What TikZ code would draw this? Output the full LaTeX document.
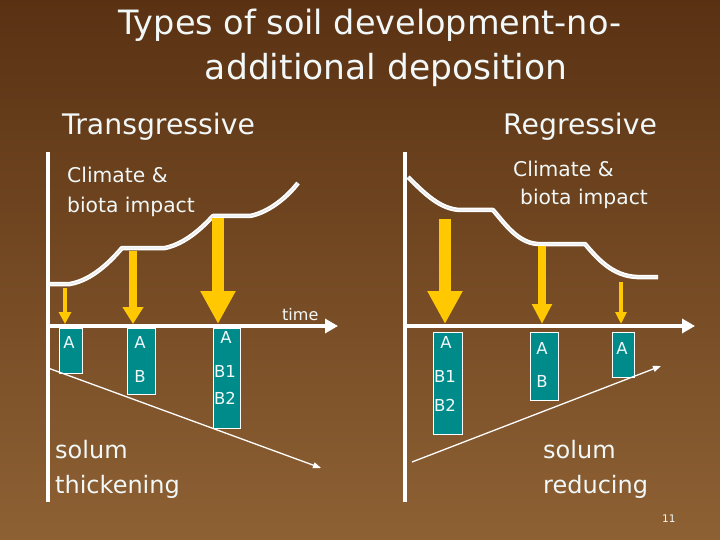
\documentclass[tikz,border=0pt]{standalone}
\usepackage{fontspec}
\setmainfont{DejaVu Sans}
\usetikzlibrary{arrows.meta}

\definecolor{slidetop}{RGB}{90,50,19}
\definecolor{slidebot}{RGB}{142,97,52}
\definecolor{chalk}{RGB}{242,248,248}
\definecolor{horizonfill}{RGB}{0,139,139}
\definecolor{impact}{RGB}{255,200,0}

\begin{document}
\begin{tikzpicture}[
        x=1pt, y=-1pt,
        axisline/.style={white, line width=4.5pt},
        timeaxis/.style={white, line width=4.5pt, -{Triangle[width=14pt,length=13pt]}},
        trend/.style={white, line width=1.3pt, -{Triangle[width=6pt,length=8pt]}},
        surface/.style={white, line width=1.9pt, double=white!75!gray, double distance=0.7pt, line join=round},
        horizon/.style={draw=white, fill=horizonfill, line width=0.8pt, anchor=north west, inner sep=0pt},
        hlabel/.style={text=chalk, inner sep=0pt, font=\fontsize{16.5}{16.5}\selectfont},
        words/.style={text=chalk, inner sep=0pt, anchor=base west}
    ]
        % --- Background ---
        \fill[top color=slidetop, bottom color=slidebot] (0,0) rectangle (720,540);
        \useasboundingbox (0,0) rectangle (720,540);

        % --- Title ---
        \node[words, anchor=base, font=\fontsize{33.5}{33.5}\selectfont] (title1) at (370,35) {Types of soil development-no-};
        \node[words, anchor=base, font=\fontsize{34.5}{34.5}\selectfont] (title2) at (386,80) {additional deposition};
        \node[words, font=\fontsize{28.3}{28.3}\selectfont] (trans) at (62,135) {Transgressive};
        \node[words, font=\fontsize{28.3}{28.3}\selectfont] (regr) at (503,135) {Regressive};

        % --- Axes ---
        \coordinate (LTop) at (48,152);
        \coordinate (LBot) at (48,502);
        \coordinate (LOrig) at (48,326);
        \coordinate (LEnd) at (338,326);
        \coordinate (RTop) at (405,152);
        \coordinate (RBot) at (405,502);
        \coordinate (ROrig) at (405,326);
        \coordinate (REnd) at (695,326);
        \draw[axisline] (LTop) -- (LBot);
        \draw[axisline] (RTop) -- (RBot);
        \draw[timeaxis] (LOrig) -- (LEnd);
        \draw[timeaxis] (ROrig) -- (REnd);
        \node[words, font=\fontsize{16}{16}\selectfont] (time) at (282,320) {time};

        % --- Land surface, transgressive ---
        \coordinate (L0) at (50,284);
        \coordinate (L1) at (70,284);
        \coordinate (L2) at (122,248);
        \coordinate (L3) at (165,248);
        \coordinate (L4) at (213,216);
        \coordinate (L5) at (250,216);
        \coordinate (L6) at (298,183);
        \draw[surface] (L0) -- (L1) .. controls (92,280) and (110,262) .. (L2) -- (L3)
            .. controls (184,244) and (200,230) .. (L4) -- (L5)
            .. controls (270,212) and (288,196) .. (L6);

        % --- Land surface, regressive ---
        \coordinate (R0) at (408,177);
        \coordinate (R1) at (460,210);
        \coordinate (R2) at (493,210);
        \coordinate (R3) at (538,244);
        \coordinate (R4) at (585,244);
        \coordinate (R5) at (637,277);
        \coordinate (R6) at (658,277);
        \draw[surface] (R0) .. controls (425,194) and (440,209) .. (R1) -- (R2)
            .. controls (505,224) and (518,243) .. (R3) -- (R4)
            .. controls (597,258) and (612,276) .. (R5) -- (R6);

        \node[words, font=\fontsize{20.3}{20.3}\selectfont] (climL1) at (67,183) {Climate \&};
        \node[words, font=\fontsize{20.3}{20.3}\selectfont] (climL2) at (67,212) {biota impact};
        \node[words, font=\fontsize{20.3}{20.3}\selectfont] (climR1) at (513,177) {Climate \&};
        \node[words, font=\fontsize{20.3}{20.3}\selectfont] (climR2) at (520,205) {biota impact};

        % --- Impact arrows ---
        \coordinate (la1) at (65,288);
        \coordinate (la1tip) at (65,324);
        \coordinate (la2) at (133,251);
        \coordinate (la2tip) at (133,324);
        \coordinate (la3) at (218,218);
        \coordinate (la3tip) at (218,324);
        \coordinate (ra1) at (445,219);
        \coordinate (ra1tip) at (445,324);
        \coordinate (ra2) at (542,246);
        \coordinate (ra2tip) at (542,324);
        \coordinate (ra3) at (621,282);
        \coordinate (ra3tip) at (621,324);
        \draw[impact, line width=4pt, -{Triangle[width=12pt,length=12pt]}] (la1) -- (la1tip);
        \draw[impact, line width=8.5pt, -{Triangle[width=20pt,length=17pt]}] (la2) -- (la2tip);
        \draw[impact, line width=11.5pt, -{Triangle[width=33pt,length=33pt]}] (la3) -- (la3tip);
        \draw[impact, line width=11.5pt, -{Triangle[width=33pt,length=33pt]}] (ra1) -- (ra1tip);
        \draw[impact, line width=8.5pt, -{Triangle[width=19pt,length=20pt]}] (ra2) -- (ra2tip);
        \draw[impact, line width=4pt, -{Triangle[width=11pt,length=12pt]}] (ra3) -- (ra3tip);

        % --- Soil profiles ---
        \node[horizon, minimum width=23, minimum height=45] (lbox1) at (59,328) {};
        \node[horizon, minimum width=28, minimum height=66] (lbox2) at (127,328) {};
        \node[horizon, minimum width=27, minimum height=100] (lbox3) at (213,328) {};
        \node[horizon, minimum width=29, minimum height=102] (rbox1) at (433,332) {};
        \node[horizon, minimum width=28, minimum height=68] (rbox2) at (530,332) {};
        \node[horizon, minimum width=22, minimum height=45] (rbox3) at (612,332) {};

        \node[hlabel] (lA1) at (69,342) {A};
        \node[hlabel] (lA2) at (140,342) {A};
        \node[hlabel] (lB2) at (140,376) {B};
        \node[hlabel] (lA3) at (226,337) {A};
        \node[hlabel] (lB31) at (225,371) {B1};
        \node[hlabel] (lB32) at (225,398) {B2};
        \node[hlabel] (rA1) at (446,342) {A};
        \node[hlabel] (rB11) at (445,376) {B1};
        \node[hlabel] (rB12) at (445,405) {B2};
        \node[hlabel] (rA2) at (542,348) {A};
        \node[hlabel] (rB2) at (542,381) {B};
        \node[hlabel] (rA3) at (622,348) {A};

        % --- Solum trends ---
        \coordinate (LT0) at (48,368);
        \coordinate (LT1) at (321,468);
        \coordinate (RT0) at (412,462);
        \coordinate (RT1) at (661,366);
        \draw[trend] (LT0) -- (LT1);
        \draw[trend] (RT0) -- (RT1);

        \node[words, font=\fontsize{24}{24}\selectfont] (thick1) at (55,458) {solum};
        \node[words, font=\fontsize{24}{24}\selectfont] (thick2) at (55,493) {thickening};
        \node[words, font=\fontsize{24}{24}\selectfont] (red1) at (543,458) {solum};
        \node[words, font=\fontsize{24}{24}\selectfont] (red2) at (543,493) {reducing};

        \node[words, font=\fontsize{10.5}{10.5}\selectfont] (page) at (662,522) {11};
    \end{tikzpicture}
\end{document}
